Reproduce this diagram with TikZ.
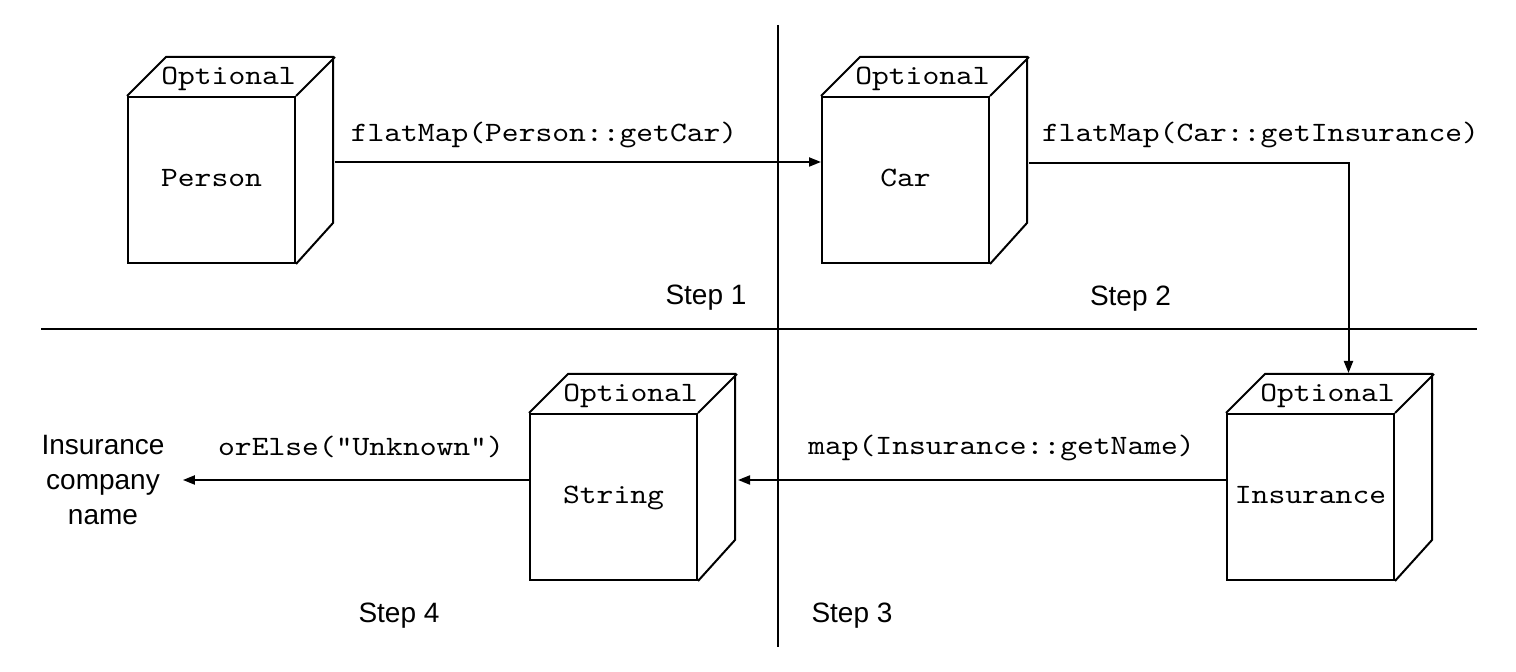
\documentclass[tikz,border=0pt]{standalone}
\usepackage{fontspec}
\setmainfont{Liberation Sans}
\newfontfamily\monofont{lmmono10-regular.otf}[FakeStretch=1.143]
\usetikzlibrary{calc,arrows.meta}
\tikzset{
  face/.style={draw, line width=1pt, line join=miter},
  frontface/.style={draw, line width=1pt, minimum width=83.5pt, minimum height=83pt,
    anchor=north west, inner sep=0pt, font=\monofont\fontsize{14pt}{17pt}\selectfont,
    text height=7pt, text depth=0pt},
  mono/.style={font=\monofont\fontsize{14pt}{17pt}\selectfont, inner sep=0pt},
  sans/.style={font=\fontsize{14pt}{17.5pt}\selectfont, inner sep=0pt},
  arr/.style={line width=1pt, -{Triangle[length=6pt,width=4.5pt]}},
  divider/.style={line width=1pt},
}
\newcommand\cubebox[4]{%
  \node[frontface] (#1) at (#2,#3) {#4};
  \draw[face] (#1.north west) -- ++(39,-39) -- ++(167,0) -- ++(0,166) -- (#1.south east)
              (#1.north east) -- ++(39,-39);
  \node[mono, anchor=base] (#1-opt) at ($(#1.north)+(17,-11)$) {Optional};
}
\begin{document}
\begin{tikzpicture}[x=0.5pt, y=-0.5pt]
\useasboundingbox (0,0) rectangle (1516,672);
\fill[white] (0,0) rectangle (1516,672);

% dividers
\draw[divider] (41,329) -- (1477,329);
\draw[divider] (778,25) -- (778,647);

% cubes
\cubebox{person}{127}{96}{Person}
\cubebox{car}{821}{96}{Car}
\cubebox{ins}{1226}{413}{Insurance}
\cubebox{str}{529}{413}{String}

% result text
\node[sans, align=center, inner xsep=9pt] (res) at (103,480) {Insurance\\company\\name};

% connectors
\draw[arr] ($(person.east)+(39,-18)$) -- ($(car.west)+(0,-18)$);
\draw[arr] ($(car.east)+(39,-17)$) -| ($(ins.north)+(38,-40)$);
\draw[arr] ($(ins.west)+(0,-17)$) -- ($(str.east)+(40,-17)$);
\coordinate (sw) at ($(str.west)+(0,-17)$);
\draw[arr] (sw) -- (sw -| res.east);

% labels
\node[mono, anchor=base] (l1) at (544,142) {flatMap(Person::getCar)};
\node[mono, anchor=base] (l2) at (1260.5,142) {flatMap(Car::getInsurance)};
\node[mono, anchor=base] (l3) at (1001.5,455) {map(Insurance::getName)};
\node[mono, anchor=base] (l4) at (361,456) {orElse("Unknown")};

\node[sans, anchor=base] (s1) at (706,305) {Step 1};
\node[sans, anchor=base] (s2) at (1130.5,306) {Step 2};
\node[sans, anchor=base] (s3) at (852,623) {Step 3};
\node[sans, anchor=base] (s4) at (399,623) {Step 4};
\end{tikzpicture}
\end{document}
